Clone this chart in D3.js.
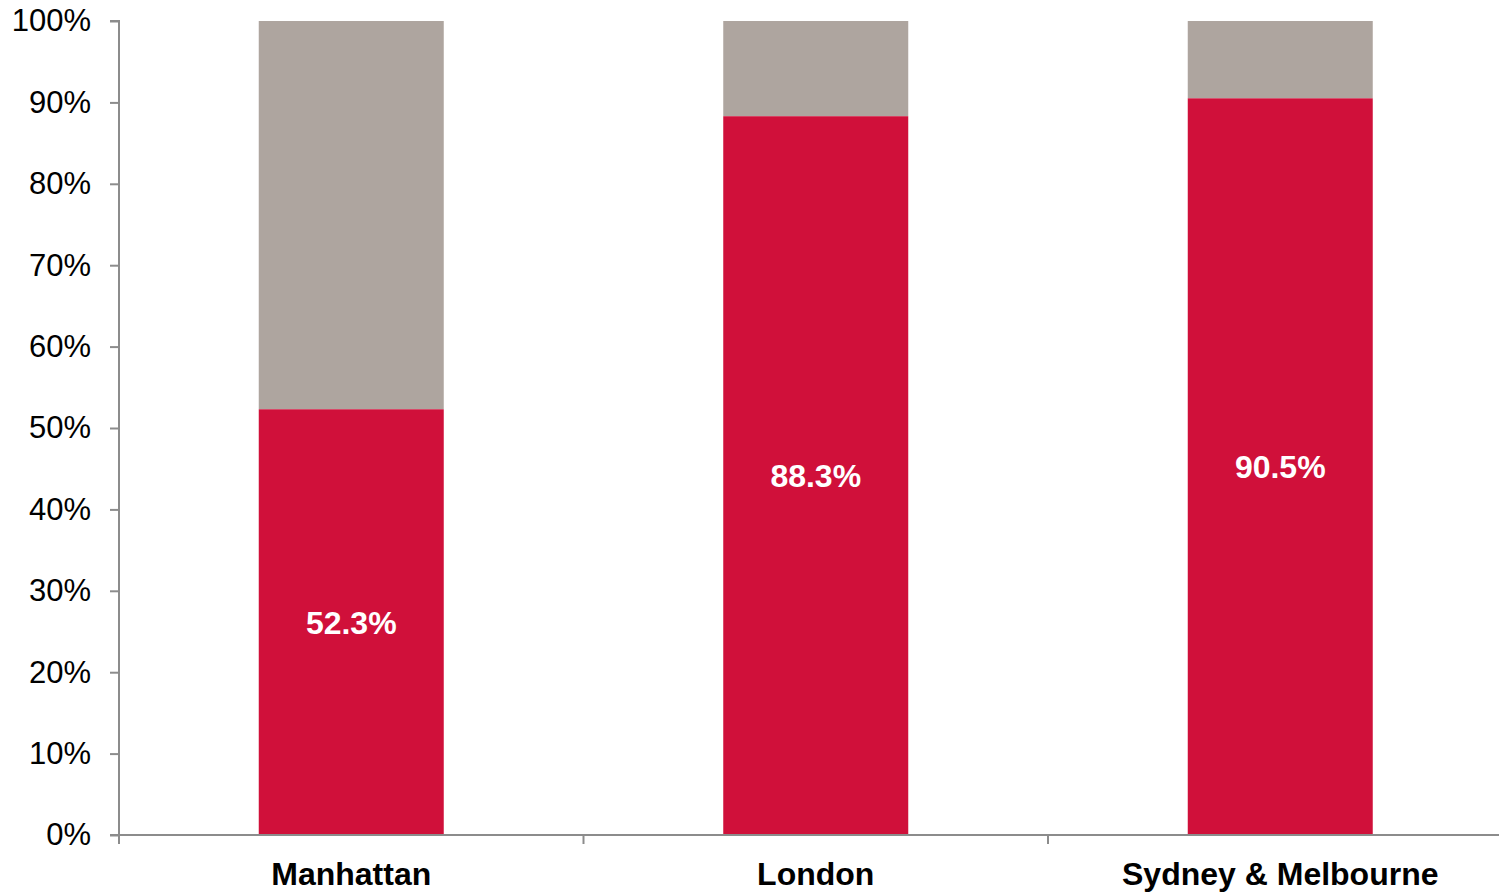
<!DOCTYPE html>
<html>
<head>
<meta charset="utf-8">
<script src="https://cdn.jsdelivr.net/npm/d3@7"></script>
<style>
  body { margin: 0; background: #fff; }
  svg { display: block; font-family: 'Liberation Sans', Arial, sans-serif; }
</style>
</head>
<body>
<div id="chart-area"></div>
<script>
const cities = ['Manhattan', 'London', 'Sydney & Melbourne'];
const redShare = [52.3, 88.3, 90.5];
const greyShare = [47.7, 11.7, 9.5];
const yTicks = [0, 10, 20, 30, 40, 50, 60, 70, 80, 90, 100];

const width = 1499, height = 892;
const plotLeft = 119, plotTop = 21, plotBottom = 835;
const band = 464.5;

let svg = d3.select('#chart-area').append('svg').attr('width', width).attr('height', height);

let x = d3.scaleBand()
    .domain(cities)
    .range([plotLeft, plotLeft + band * cities.length])
    .paddingInner(0)
    .paddingOuter(0);

let y = d3.scaleLinear()
    .domain([0, 100])
    .range([plotBottom, plotTop]);

const barW = 185;
let data = cities.map((c, i) => ({ name: c, red: redShare[i], grey: greyShare[i] }));

// grey segment on top
svg.selectAll('rect.grey').data(data).enter().append('rect')
    .attr('class', 'grey')
    .attr('x', (d) => x(d.name) + (x.bandwidth() - barW) / 2)
    .attr('y', (d) => y(d.red + d.grey))
    .attr('width', barW)
    .attr('height', (d) => y(d.red) - y(d.red + d.grey))
    .attr('fill', '#aea59f');

svg.selectAll('rect.red').data(data).enter().append('rect')
    .attr('class', 'red')
    .attr('x', (d) => x(d.name) + (x.bandwidth() - barW) / 2)
    .attr('y', (d) => y(d.red))
    .attr('width', barW)
    .attr('height', (d) => y(0) - y(d.red))
    .attr('fill', '#d0103a');

svg.selectAll('text.val').data(data).enter().append('text')
    .attr('class', 'val')
    .attr('x', (d) => x(d.name) + x.bandwidth() / 2)
    .attr('y', (d) => (y(d.red) + y(0)) / 2)
    .attr('dy', '0.36em')
    .attr('text-anchor', 'middle')
    .attr('fill', '#fff')
    .style('font-weight', 'bold')
    .style('font-size', '32px')
    .text((d) => d.red.toFixed(1) + '%');

// y axis
let yAxis = svg.append('g')
    .attr('transform', `translate(${plotLeft},0)`)
    .call(d3.axisLeft(y).tickValues(yTicks).tickSize(9).tickPadding(19).tickFormat((d) => d + '%'));
yAxis.selectAll('text').style('font-size', '31px').attr('fill', '#000');

// x axis
let xAxis = svg.append('g')
    .attr('transform', `translate(0,${plotBottom})`)
    .call(d3.axisBottom(x).tickSize(0).tickPadding(27));
xAxis.selectAll('text').style('font-size', '32px').style('font-weight', 'bold').attr('fill', '#000');

// tick marks at category boundaries
xAxis.selectAll('line.sep').data(cities).enter().append('line')
    .attr('class', 'sep')
    .attr('x1', (d) => x(d)).attr('x2', (d) => x(d))
    .attr('y1', 0).attr('y2', 9)
    .attr('stroke', '#8c8c8c').attr('stroke-width', 2);

svg.selectAll('.domain').attr('stroke', '#8c8c8c').attr('stroke-width', 2);
yAxis.selectAll('.tick line').attr('stroke', '#8c8c8c').attr('stroke-width', 2);
yAxis.select('.domain').attr('d', `M-9,${plotTop}H0V${plotBottom}H-9`);
xAxis.select('.domain').attr('d', `M${plotLeft - 9},0H${width}`);
</script>
</body>
</html>
